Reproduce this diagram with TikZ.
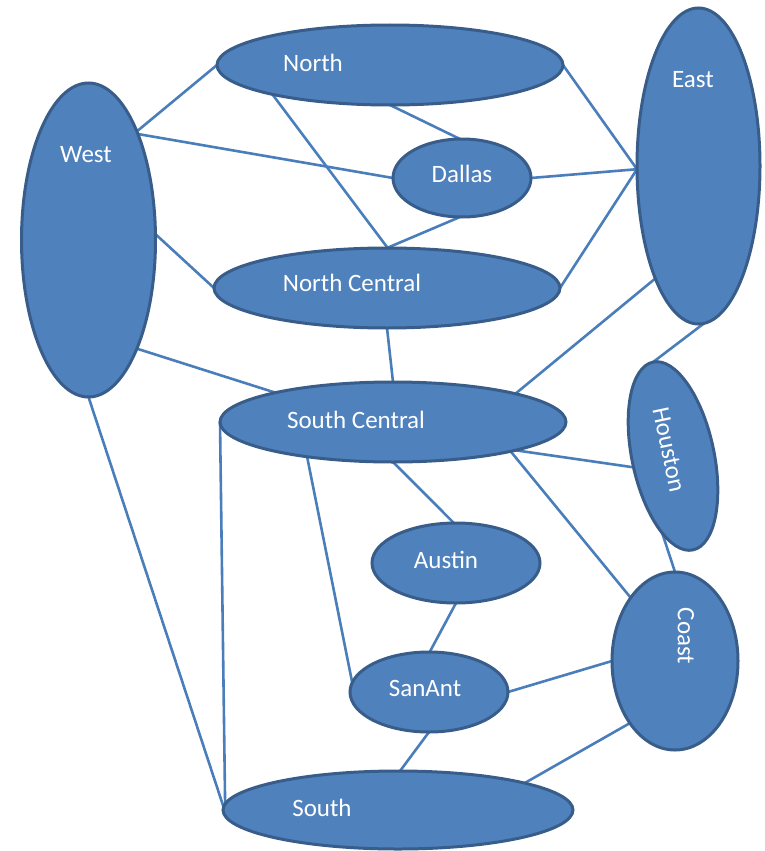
\documentclass[tikz,border=0pt]{standalone}
\usepackage{fontspec}
\setmainfont{Carlito}
\usetikzlibrary{shapes.geometric,backgrounds}
\definecolor{fillblue}{HTML}{4F81BD}
\definecolor{edgeblue}{HTML}{385D8A}
\definecolor{linkblue}{HTML}{4A7EBB}
\begin{document}
\begin{tikzpicture}[x=1pt,y=-1pt,
  region/.style={ellipse, draw=edgeblue, line width=3pt, fill=fillblue, inner sep=0pt, outer sep=0pt},
  lbl/.style={text=white, font=\fontsize{25}{29}\selectfont, inner sep=0pt},
  link/.style={draw=linkblue, line width=2.6pt}]
\useasboundingbox (0,0) rectangle (765,851);
\node[region, minimum width=346pt, minimum height=80pt] (north) at (390,65) {};
\node[region, minimum width=134pt, minimum height=314pt] (west) at (88.5,240) {};
\node[region, minimum width=138pt, minimum height=78pt] (dallas) at (462,178) {};
\node[region, minimum width=123pt, minimum height=316pt] (east) at (698.5,166) {};
\node[region, minimum width=346pt, minimum height=80pt] (ncentral) at (387,288) {};
\node[region, minimum width=346pt, minimum height=80pt] (scentral) at (393,422) {};
\node[region, minimum width=82pt, minimum height=192pt, rotate=12] (houston) at (673,456) {};
\node[region, minimum width=126pt, minimum height=178pt] (coast) at (675,661) {};
\node[region, minimum width=168pt, minimum height=80pt] (austin) at (456,563) {};
\node[region, minimum width=158pt, minimum height=80pt] (sanant) at (429,692) {};
\node[region, minimum width=350pt, minimum height=78pt] (south) at (398,810) {};

\node[lbl] (northT) at (313,63) {North};
\node[lbl] (westT) at (86,155) {West};
\node[lbl] (dallasT) at (462,174) {Dallas};
\node[lbl] (eastT) at (693,80) {East};
\node[lbl] (ncentralT) at (352,283) {North Central};
\node[lbl] (scentralT) at (356,420) {South Central};
\node[lbl, rotate=-78] (houstonT) at (669,450) {Houston};
\node[lbl, rotate=-90] (coastT) at (686,636) {Coast};
\node[lbl] (austinT) at (446,560) {Austin};
\node[lbl] (sanantT) at (425,688) {SanAnt};
\node[lbl] (southT) at (322,808) {South};

\begin{pgfonlayer}{background}
\draw[link] (west.66) -- (north.180);
\draw[link] (west.65) -- (dallas.180);
\draw[link] (north.194) -- (ncentral.89);
\draw[link] (north.270) -- (dallas.93);
\draw[link] (north.0) -- (east.183);
\draw[link] (dallas.0) -- (east.183);
\draw[link] (dallas.267) -- (ncentral.90);
\draw[link] (ncentral.0) -- (east.183);
\draw[link] (west.5) -- (ncentral.180);
\draw[link] (west.294) -- (scentral.166);
\draw[link] (ncentral.270) -- (scentral.90);
\draw[link] (scentral.13) -- (east.249);
\draw[link] (east.272) -- (houston.90);
\draw[link] (west.270) -- (south.179);
\draw[link] (scentral.180) -- (south.178);
\draw[link] (scentral.202) -- (sanant.173);
\draw[link] (scentral.270) -- (austin.93);
\draw[link] (scentral.347) -- (houston.184);
\draw[link] (scentral.346) -- (coast.125);
\draw[link] (houston.250) -- (coast.90);
\draw[link] (austin.270) -- (sanant.89);
\draw[link] (sanant.0) -- (coast.180);
\draw[link] (sanant.270) -- (south.87);
\draw[link] (coast.234) -- (south.12);
\end{pgfonlayer}
\end{tikzpicture}
\end{document}
